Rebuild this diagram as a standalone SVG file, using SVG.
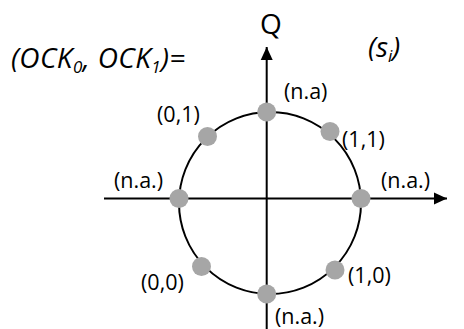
<svg xmlns="http://www.w3.org/2000/svg" width="464" height="329" viewBox="0 0 464 329">
<style>
.ax{stroke:#000;stroke-width:2;fill:none}
.dot{fill:#a6a6a6}
.lbl{font-family:"Open Sans","Liberation Sans",Arial,sans-serif;font-size:21.5px;fill:#000}
.big{font-family:"Open Sans","Liberation Sans",Arial,sans-serif;font-size:28px;font-style:italic;font-weight:500;fill:#000}
.sub{font-size:17px}
</style>
<defs>
<marker id="ah" markerUnits="userSpaceOnUse" markerWidth="14" markerHeight="14" viewBox="0 0 14 14" refX="13" refY="7" orient="auto">
<path d="M0,1 L13,7 L0,13 Z" fill="#000"/>
</marker>
</defs>
<rect width="464" height="329" fill="#fff"/>
<g id="connectors">
<line class="ax" x1="104" y1="198.5" x2="447" y2="198.5" marker-end="url(#ah)"/>
<line class="ax" x1="266.7" y1="329" x2="266.7" y2="47" marker-end="url(#ah)"/>
<circle class="ax" cx="270" cy="203" r="91"/>
</g>
<g id="title">
<text class="big" x="11" y="68" letter-spacing="0.4">(OCK<tspan class="sub" dy="5">0</tspan><tspan dy="-5">, OCK</tspan><tspan class="sub" dy="5">1</tspan><tspan dy="-5">)=</tspan></text>
</g>
<g id="axis-q">
<text class="lbl" x="271" y="34" text-anchor="middle" style="font-size:28px">Q</text>
</g>
<g id="symbol">
<text class="big" x="368" y="57">(s<tspan class="sub" dy="5">i</tspan><tspan dy="-5">)</tspan></text>
</g>
<g id="node-top">
<circle class="dot" cx="266.7" cy="112" r="9.5"/>
<text class="lbl" x="284" y="99">(n.a)</text>
</g>
<g id="node-01">
<circle class="dot" cx="207.5" cy="136.5" r="9.5"/>
<text class="lbl" x="157" y="122">(0,1)</text>
</g>
<g id="node-11">
<circle class="dot" cx="330" cy="131.5" r="9.5"/>
<text class="lbl" x="342" y="147">(1,1)</text>
</g>
<g id="node-left">
<circle class="dot" cx="179" cy="198.5" r="9.5"/>
<text class="lbl" x="114" y="188">(n.a.)</text>
</g>
<g id="node-right">
<circle class="dot" cx="361" cy="198.5" r="9.5"/>
<text class="lbl" x="381" y="188">(n.a.)</text>
</g>
<g id="node-00">
<circle class="dot" cx="201.5" cy="266.5" r="9.5"/>
<text class="lbl" x="141" y="290">(0,0)</text>
</g>
<g id="node-10">
<circle class="dot" cx="335" cy="270" r="9.5"/>
<text class="lbl" x="348" y="283">(1,0)</text>
</g>
<g id="node-bottom">
<circle class="dot" cx="266.7" cy="294" r="9.5"/>
<text class="lbl" x="275" y="324">(n.a.)</text>
</g>
</svg>
